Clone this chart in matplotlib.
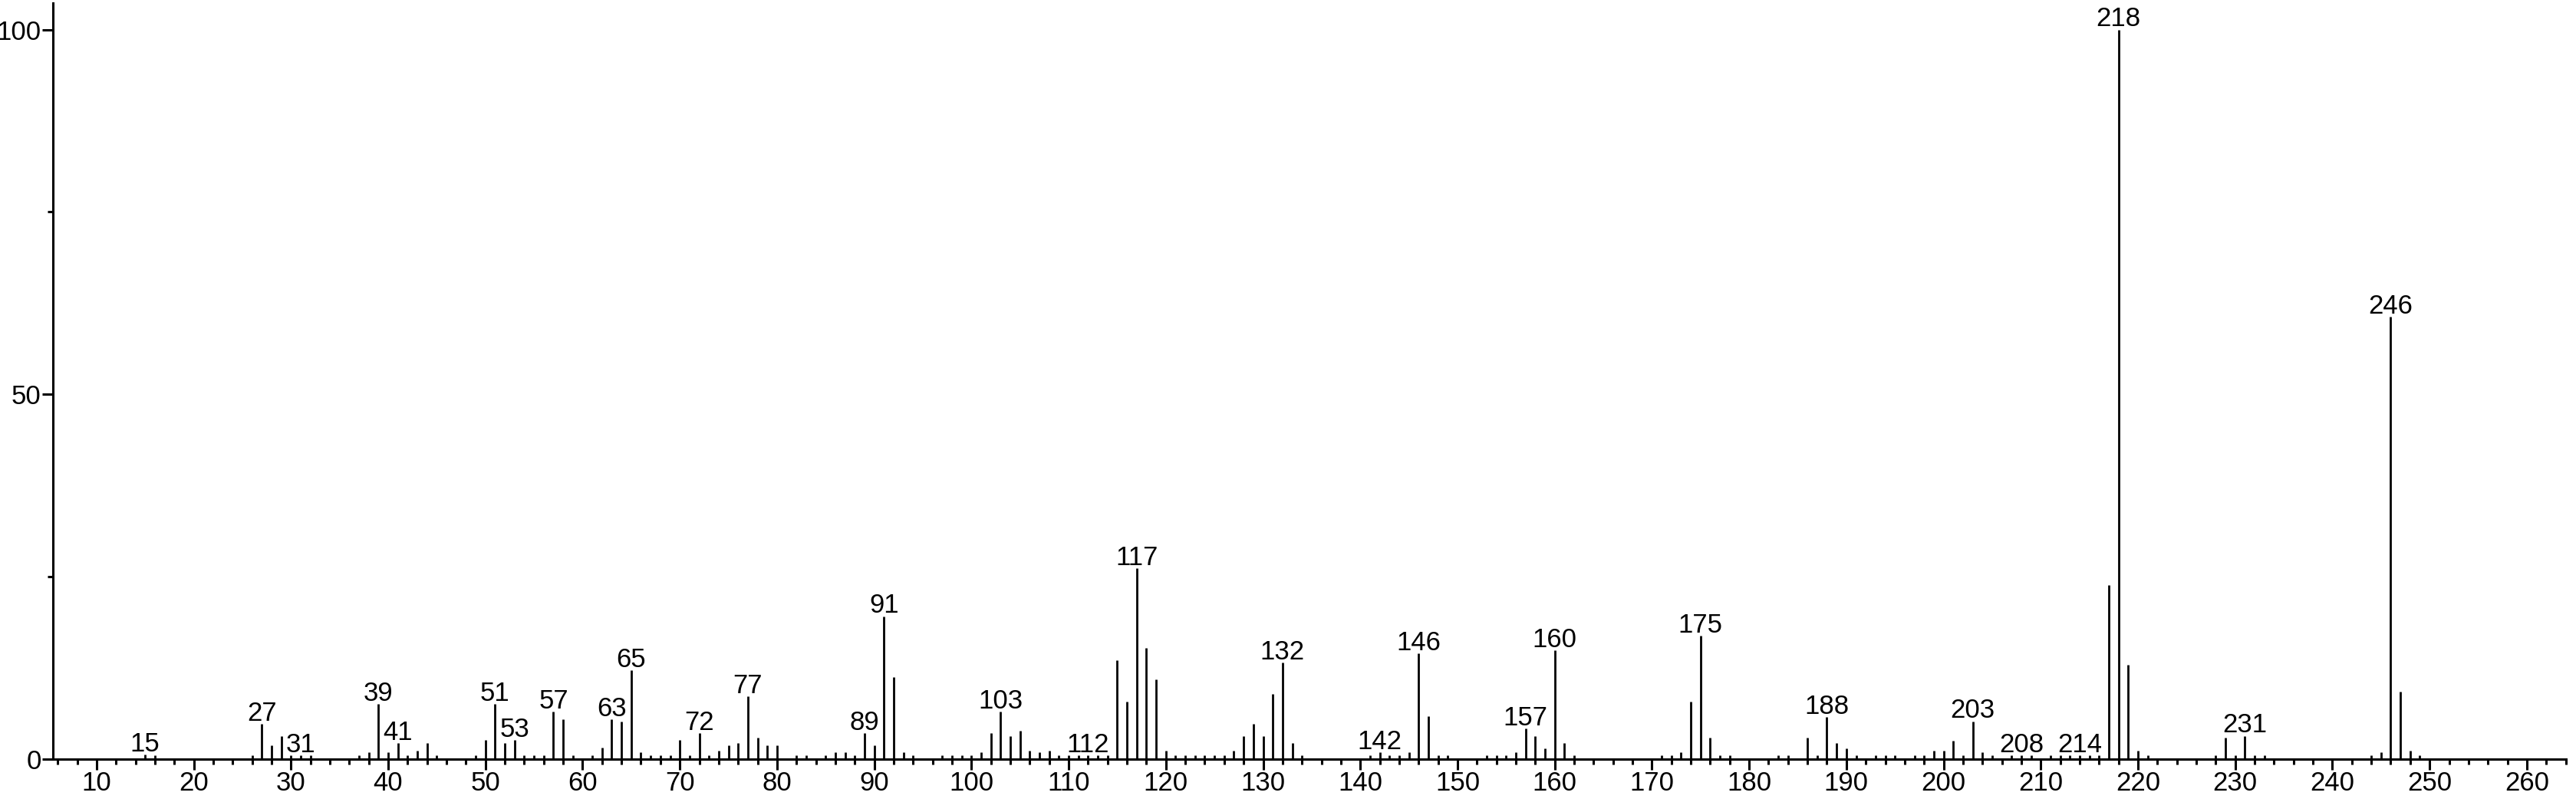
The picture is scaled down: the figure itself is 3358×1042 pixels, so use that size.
import numpy as np
import matplotlib.pyplot as plt
from matplotlib.ticker import MultipleLocator

plt.rcParams['font.family'] = ['Liberation Sans', 'DejaVu Sans']

# m/z values and relative intensities (%)
mz = np.array([
    15, 16, 26, 27, 28, 29, 30, 31, 32, 37, 38, 39, 40, 41, 42, 43, 44, 45,
    49, 50, 51, 52, 53, 54, 55, 56, 57, 58, 59, 61, 62, 63, 64, 65, 66, 67,
    68, 69, 70, 71, 72, 73, 74, 75, 76, 77, 78, 79, 80, 82, 83, 85, 86, 87,
    88, 89, 90, 91, 92, 93, 94, 97, 98, 99, 100, 101, 102, 103, 104, 105,
    106, 107, 108, 109, 110, 111, 112, 113, 114, 115, 116, 117, 118, 119,
    120, 121, 122, 123, 124, 125, 126, 127, 128, 129, 130, 131, 132, 133,
    134, 141, 142, 143, 144, 145, 146, 147, 148, 149, 153, 154, 155, 156,
    157, 158, 159, 160, 161, 162, 171, 172, 173, 174, 175, 176, 177, 178,
    183, 184, 186, 187, 188, 189, 190, 191, 193, 194, 195, 197, 198, 199,
    200, 201, 202, 203, 204, 205, 207, 208, 209, 211, 212, 213, 214, 215,
    216, 217, 218, 219, 220, 221, 228, 229, 230, 231, 232, 233, 244, 245,
    246, 247, 248, 249,
])
intensity = np.array([
    0.6, 0.5, 0.5, 4.8, 1.9, 3.2, 0.5, 0.5, 0.5, 0.5, 0.9, 7.6, 0.9, 2.2, 0.5, 1.2, 2.2, 0.5,
    0.5, 2.6, 7.6, 2.2, 2.6, 0.5, 0.5, 0.5, 6.5, 5.5, 0.5, 0.5, 1.6, 5.5, 5.2, 12.2, 0.9, 0.5,
    0.5, 0.5, 2.6, 0.5, 3.6, 0.5, 1.2, 1.9, 2.2, 8.6, 2.9, 1.9, 1.9, 0.5, 0.5, 0.5, 0.9, 0.9,
    0.5, 3.6, 1.9, 19.6, 11.2, 0.9, 0.5, 0.5, 0.5, 0.5, 0.5, 0.9, 3.6, 6.5, 3.2, 3.9,
    1.2, 0.9, 1.2, 0.5, 0.5, 0.5, 0.5, 0.5, 0.5, 13.6, 7.9, 26.2, 15.2, 10.9,
    1.2, 0.5, 0.5, 0.5, 0.5, 0.5, 0.5, 1.2, 3.2, 4.8, 3.2, 8.9, 13.2, 2.2,
    0.5, 0.5, 0.9, 0.5, 0.5, 0.9, 14.5, 5.9, 0.5, 0.5, 0.5, 0.5, 0.5, 0.9,
    4.2, 3.2, 1.5, 14.9, 2.2, 0.5, 0.5, 0.5, 0.9, 7.9, 16.9, 2.9, 0.5, 0.5,
    0.5, 0.5, 2.9, 0.5, 5.8, 2.2, 1.5, 0.5, 0.5, 0.5, 0.5, 0.5, 0.5, 1.2,
    1.2, 2.5, 0.5, 5.2, 0.9, 0.5, 0.5, 0.5, 0.5, 0.5, 0.5, 0.5, 0.5, 0.5,
    0.5, 23.9, 100.0, 12.9, 1.2, 0.5, 0.5, 2.9, 0.5, 3.2, 0.5, 0.5, 0.5, 0.9,
    60.6, 9.3, 1.2, 0.5,
])

# Peaks that carry an m/z label
labelled = [15, 27, 31, 39, 41, 51, 53, 57, 63, 65, 72, 77, 89, 91, 103, 112,
            117, 132, 142, 146, 157, 160, 175, 188, 203, 208, 214, 218, 231, 246]

fig = plt.figure(figsize=(33.58, 10.42), dpi=100)
ax = fig.add_axes([0.0205, 0.0499, 0.9755, 0.946])

ax.vlines(mz, 0, intensity, color='black', linewidth=2.0)

for m in labelled:
    h = intensity[mz == m][0]
    ax.annotate(str(m), (m, h), xytext=(0, 3), textcoords='offset points',
                ha='center', va='baseline', fontsize=25)

ax.set_xlim(5.5, 264)
ax.set_ylim(0, 103.6)

for side in ['top', 'right']:
    ax.spines[side].set_visible(False)
for side in ['left', 'bottom']:
    ax.spines[side].set_linewidth(2.2)

ax.set_xticks(np.arange(10, 261, 10))
ax.xaxis.set_minor_locator(MultipleLocator(2))
ax.set_yticks([0, 50, 100])
ax.set_yticks([25, 75], minor=True)

ax.tick_params(axis='both', which='major', length=10, width=2.2, labelsize=25)
ax.tick_params(axis='both', which='minor', length=5, width=2.2)
ax.tick_params(axis='x', which='major', pad=1)
ax.tick_params(axis='y', which='major', pad=1)

plt.savefig('out.png', dpi=100)
